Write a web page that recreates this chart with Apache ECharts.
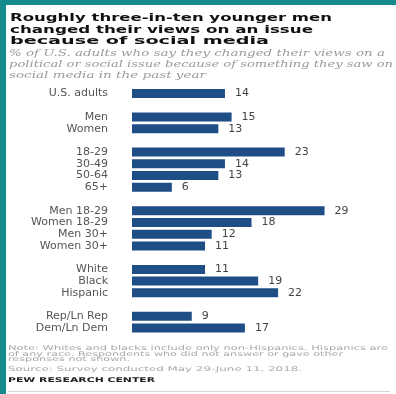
<!DOCTYPE html>
<html>
<head>
<meta charset="utf-8">
<style>
  html, body { margin: 0; padding: 0; background: #ffffff; }
  #chart { width: 396px; height: 394px; }
</style>
<script src="https://cdn.jsdelivr.net/npm/echarts@6/dist/echarts.min.js"></script>
</head>
<body>
<div id="chart"></div>
<script>
// 数据区
const categories = ['U.S. adults', 'Men', 'Women', '18-29', '30-49', '50-64', '65+',
  'Men 18-29', 'Women 18-29', 'Men 30+', 'Women 30+', 'White', 'Black', 'Hispanic',
  'Rep/Ln Rep', 'Dem/Ln Dem'];
const values = [14, 15, 13, 23, 14, 13, 6, 29, 18, 12, 11, 11, 19, 22, 9, 17];
// an empty row follows each of these group ends
const groupEnds = [1, 3, 7, 11, 14];

const titleLines = ['Roughly three-in-ten younger men', 'changed their views on an issue', 'because of social media'];
const subtitleLines = ['% of U.S. adults who say they changed their views on a',
  'political or social issue because of something they saw on',
  'social media in the past year'];
const noteLines = ['Note: Whites and blacks include only non-Hispanics. Hispanics are',
  'of any race. Respondents who did not answer or gave other',
  'responses not shown.'];
const sourceLine = 'Source: Survey conducted May 29-June 11, 2018.';
const creditLine = 'PEW RESEARCH CENTER';

// rows with blank spacer rows between groups
const rowNames = [];
const rowValues = [];
categories.forEach((c, i) => {
  rowNames.push(c);
  rowValues.push(values[i]);
  if (groupEnds.includes(i + 1)) {
    rowNames.push(' '.repeat(rowNames.length));
    rowValues.push('-');
  }
});

// text stretched to the width seen in the picture
const measureCtx = document.createElement('canvas').getContext('2d');
function fitText(text, x, y, width, size, opts) {
  const family = opts.family || 'DejaVu Sans';
  const weight = opts.weight || 'normal';
  const fstyle = opts.style || 'normal';
  measureCtx.font = fstyle + ' ' + weight + ' ' + size + 'px "' + family + '"';
  const w = measureCtx.measureText(text).width;
  return {
    type: 'text', x: x, y: y, scaleX: width / w, silent: true,
    style: {
      text: text, fontSize: size, fontFamily: family, fontWeight: weight,
      fontStyle: fstyle, fill: opts.color, align: 'left', verticalAlign: 'middle'
    }
  };
}

const teal = '#148a8b';
const graphics = [
  { type: 'rect', shape: { x: 0, y: 0, width: 396, height: 5 }, style: { fill: teal }, silent: true },
  { type: 'rect', shape: { x: 0, y: 0, width: 6, height: 394 }, style: { fill: teal }, silent: true },
  { type: 'line', shape: { x1: 8, y1: 391.5, x2: 390, y2: 391.5 }, style: { stroke: '#d6d6d6', lineWidth: 1 }, silent: true },
  fitText(titleLines[0], 10, 18, 322, 10.5, { weight: 'bold', color: '#111' }),
  fitText(titleLines[1], 10, 30, 303, 10.5, { weight: 'bold', color: '#111' }),
  fitText(titleLines[2], 10, 41.5, 259, 10.5, { weight: 'bold', color: '#111' }),
  fitText(subtitleLines[0], 9, 54, 376, 8.5, { family: 'DejaVu Serif', style: 'italic', color: '#9a9a9a' }),
  fitText(subtitleLines[1], 9, 65, 384, 8.5, { family: 'DejaVu Serif', style: 'italic', color: '#9a9a9a' }),
  fitText(subtitleLines[2], 9, 75.5, 197, 8.5, { family: 'DejaVu Serif', style: 'italic', color: '#9a9a9a' }),
  fitText(noteLines[0], 8, 348.5, 380, 6.5, { color: '#a8a8a8' }),
  fitText(noteLines[1], 8, 354, 335, 6.5, { color: '#a8a8a8' }),
  fitText(noteLines[2], 8, 359.5, 122, 6.5, { color: '#a8a8a8' }),
  fitText(sourceLine, 8, 369.5, 294, 6.5, { color: '#a8a8a8' }),
  fitText(creditLine, 8, 380.5, 147, 6.5, { weight: 'bold', color: '#222' })
];

const chart = echarts.init(document.getElementById('chart'));
const option = {
  animation: false,
  backgroundColor: '#ffffff',
  graphic: graphics,
  grid: { left: 132, width: 199.2, top: 87.6, height: 246.3 },
  xAxis: { type: 'value', min: 0, max: 30, show: false },
  yAxis: {
    type: 'category',
    data: rowNames,
    inverse: true,
    axisLine: { show: false },
    axisTick: { show: false },
    splitLine: { show: false },
    axisLabel: {
      interval: 0,
      margin: 24,
      color: '#555555',
      fontSize: 11,
      fontFamily: 'DejaVu Sans'
    }
  },
  series: [{
    type: 'bar',
    data: rowValues,
    barWidth: 9,
    silent: true,
    itemStyle: { color: '#1f4d86' },
    label: {
      show: true,
      position: 'right',
      distance: 10,
      color: '#444444',
      fontSize: 11,
      fontFamily: 'DejaVu Sans'
    }
  }]
};
chart.setOption(option);
</script>
</body>
</html>
